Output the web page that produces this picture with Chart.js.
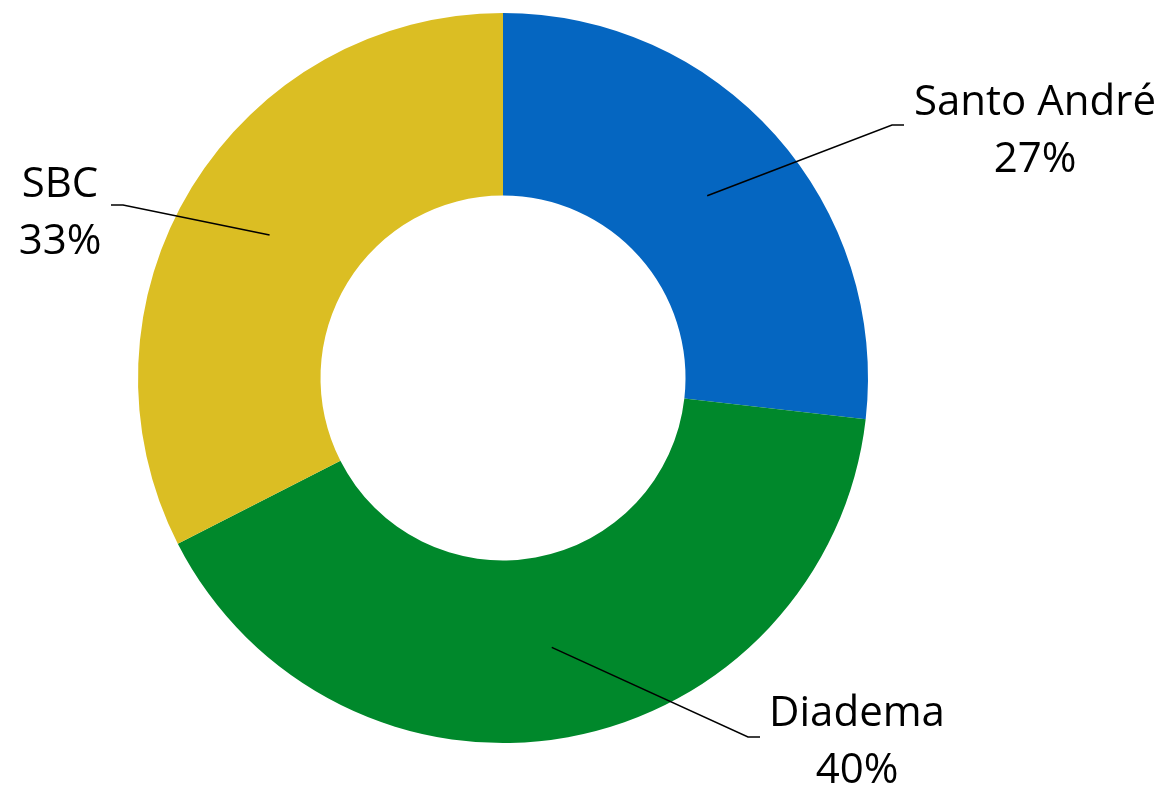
<!DOCTYPE html>
<html>
<head>
<meta charset="utf-8">
<script src="https://cdn.jsdelivr.net/npm/chart.js@4/dist/chart.umd.min.js"></script>
<style>
  html, body { margin: 0; padding: 0; background: #fff; }
  #wrap { width: 1167px; height: 792px; }
</style>
</head>
<body>
<div id="wrap"><canvas id="chart" width="1167" height="792"></canvas></div>
<script>
const categories = ['Santo André', 'Diadema', 'SBC'];
const shares = [26.8, 40.7, 32.5];
const shareLabels = ['27%', '40%', '33%'];
const colors = ['#0566C1', '#00882B', '#DBBE23'];

// where each callout text sits, relative to the chart centre
const callouts = [
  { elbow: [389, -253], end: [401, -253], text: [532, -275] },
  { elbow: [245, 359], end: [257, 359], text: [354, 336] },
  { elbow: [-380, -173], end: [-392, -173], text: [-443, -193] },
];

const calloutPlugin = {
  id: 'callouts',
  afterDatasetsDraw(chart) {
    const ctx = chart.ctx;
    const meta = chart.getDatasetMeta(0);
    ctx.save();
    meta.data.forEach((arc, i) => {
      const { x, y, startAngle, endAngle, innerRadius, outerRadius } = arc.getProps(
        ['x', 'y', 'startAngle', 'endAngle', 'innerRadius', 'outerRadius'], true);
      const mid = (startAngle + endAngle) / 2;
      const r = (innerRadius + outerRadius) / 2;
      const c = callouts[i];
      ctx.strokeStyle = '#000';
      ctx.lineWidth = 1.5;
      ctx.beginPath();
      ctx.moveTo(x + Math.cos(mid) * r, y + Math.sin(mid) * r);
      ctx.lineTo(x + c.elbow[0], y + c.elbow[1]);
      ctx.lineTo(x + c.end[0], y + c.end[1]);
      ctx.stroke();

      ctx.fillStyle = '#000';
      ctx.font = "42px 'Open Sans', sans-serif";
      ctx.textAlign = 'center';
      ctx.textBaseline = 'middle';
      ctx.fillText(categories[i], x + c.text[0], y + c.text[1]);
      ctx.fillText(shareLabels[i], x + c.text[0], y + c.text[1] + 57);
    });
    ctx.restore();
  },
};

new Chart(document.getElementById('chart'), {
  type: 'doughnut',
  data: {
    labels: categories,
    datasets: [{
      data: shares,
      backgroundColor: colors,
      borderWidth: 0,
    }],
  },
  options: {
    responsive: false,
    animation: false,
    cutout: '50%',
    layout: { padding: { left: 138, right: 299, top: 13, bottom: 49 } },
    plugins: {
      legend: { display: false },
      tooltip: { enabled: false },
    },
  },
  plugins: [calloutPlugin],
});
</script>
</body>
</html>
